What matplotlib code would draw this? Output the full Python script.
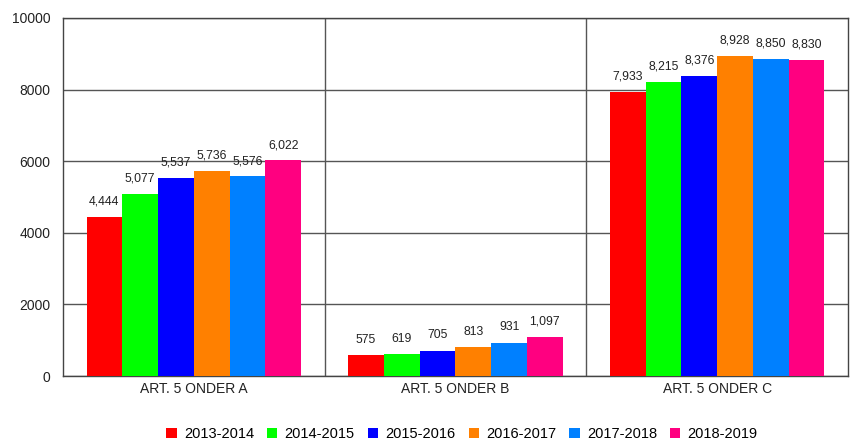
import matplotlib.pyplot as plt
import numpy as np

plt.rcParams['font.family'] = ['Liberation Sans', 'DejaVu Sans']

categories = ["ART. 5 ONDER A", "ART. 5 ONDER B", "ART. 5 ONDER C"]
seasons = ["2013-2014", "2014-2015", "2015-2016", "2016-2017", "2017-2018", "2018-2019"]
values = [
    [4444, 575, 7933],
    [5077, 619, 8215],
    [5537, 705, 8376],
    [5736, 813, 8928],
    [5576, 931, 8850],
    [6022, 1097, 8830],
]
colors = ["#ff0000", "#00ff00", "#0000ff", "#ff8000", "#0080ff", "#ff0080"]

fig = plt.figure(figsize=(8.5, 4.44), dpi=100)
ax = fig.add_axes([0.0741, 0.153, 0.9235, 0.8065])

x = np.arange(len(categories))
n = len(seasons)
w = 0.82 / n
for i, (s, vals, c) in enumerate(zip(seasons, values, colors)):
    pos = x - 0.41 + w * (i + 0.5)
    ax.bar(pos, vals, width=w, color=c, label=s, zorder=3)
    for px, v in zip(pos, vals):
        ax.text(px, v + 430, f"{v:,}", ha="center", va="center", fontsize=8.8,
                color="#222222", zorder=4)

ax.set_xlim(-0.5, len(categories) - 0.5)
ax.set_ylim(0, 10000)
ax.set_yticks(range(0, 10001, 2000))
ax.set_xticks(x)
ax.set_xticklabels(categories)
ax.tick_params(axis="both", length=0, labelsize=10, colors="#222222")
ax.tick_params(axis="y", pad=9)
ax.tick_params(axis="x", pad=4)
ax.grid(axis="y", color="#555555", linewidth=1, zorder=1)
for b in x[:-1] + 0.5:
    ax.axvline(b, color="#555555", linewidth=1, zorder=1)
for sp in ax.spines.values():
    sp.set_color("#444444")
    sp.set_linewidth(1)

fig.legend(*ax.get_legend_handles_labels(), loc="center", bbox_to_anchor=(462 / 850, 10 / 444),
           ncol=n, frameon=False, fontsize=10.5, handlelength=0.7, handleheight=0.7,
           handletextpad=0.5, columnspacing=0.9)

fig.savefig("out.png", dpi=100)
